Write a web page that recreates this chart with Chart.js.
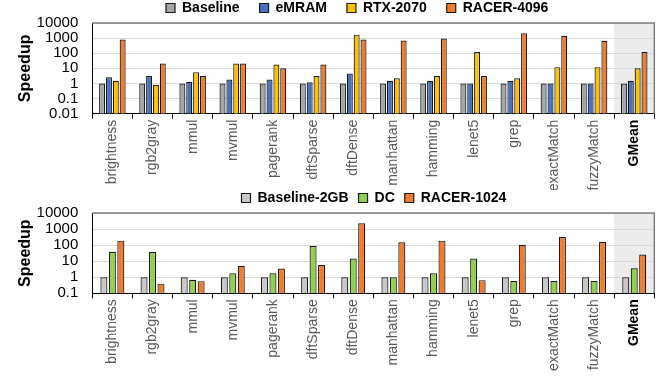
<!DOCTYPE html>
<html><head><meta charset="utf-8">
<script src="https://cdn.jsdelivr.net/npm/chart.js@4.4.1/dist/chart.umd.min.js"></script>
<style>
html,body{margin:0;padding:0;background:#fff;}
#wrap{position:relative;width:672px;height:377px;overflow:hidden;background:#fff}
canvas{position:absolute;left:0}
</style></head><body>
<div id="wrap">
<canvas id="c1" width="672" height="190" style="top:0px"></canvas>
<canvas id="c2" width="672" height="187" style="top:190px"></canvas>
</div>
<script>
const categories = ['brightness','rgb2gray','mmul','mvmul','pagerank','dftSparse','dftDense','manhattan','hamming','lenet5','grep','exactMatch','fuzzyMatch','GMean'];

// Top panel
const topBaseline = [1,1,1,1,1,1,1,1,1,1,1,1,1,1];
const topEMRAM    = [2.6,3.1,1.3,1.8,1.8,1.2,4.6,1.5,1.5,1.0,1.5,1.0,1.0,1.5];
const topRTX2070  = [1.5,0.8,5.6,21,18,3.1,1700,2.2,3.1,120,2.2,12,12,10];
const topRACER4096= [800,21,3.1,21,10,18,800,690,950,3.1,2100,1450,660,120];
const topTickValues = [0.01,0.1,1,10,100,1000,10000];
const topTickLabels = ['0.01','0.1','1','10','100','1000','10000'];

// Bottom panel
const botBaseline2GB = [1,1,1,1,1,1,1,1,1,1,1,1,1,1];
const botDC          = [38,37,0.69,1.75,1.75,87,14.8,1.0,1.75,14.8,0.58,0.58,0.59,3.6];
const botRACER1024   = [190,0.4,0.57,5.1,3.5,5.8,2300,152,190,0.66,105,318,158,26];
const botTickValues = [0.1,1,10,100,1000,10000];
const botTickLabels = ['0.1','1','10','100','1000','10000'];

const FONT = "'Liberation Sans', Arial, sans-serif";

function makePlugins(legendStartX){
  return [{
    id:'gmeanShade',
    beforeDraw(chart){
      const {ctx, chartArea:a} = chart;
      const x = chart.scales.x;
      const w = (x.right - x.left) / categories.length;
      const x0 = x.getPixelForValue(categories.length - 1) - w/2;
      ctx.save();
      ctx.fillStyle = '#ebebeb';
      ctx.fillRect(x0, a.top, a.right - x0, a.bottom - a.top);
      ctx.restore();
    },
    afterDraw(chart){
      const {ctx, chartArea:a} = chart;
      ctx.save();
      ctx.strokeStyle = '#7f7f7f';
      ctx.lineWidth = 1.5;
      ctx.beginPath();
      ctx.moveTo(a.left, a.top);
      ctx.lineTo(a.right, a.top);
      ctx.lineTo(a.right, a.bottom);
      ctx.stroke();
      ctx.restore();
    }
  },{
    id:'legendPlace',
    afterLayout(chart){
      const lg = chart.legend;
      const p = lg.options.labels.padding;
      lg.left = legendStartX - p;
      lg.right = 672;
      lg.top = 8 - 7 - p;
      lg.bottom = lg.top + p + 40;
    }
  }];
}

function build(id, datasets, tickValues, tickLabels, min, max, plotTop, xHeight, legendStartX, legendPad, catPct, barPct){
  return new Chart(document.getElementById(id), {
    type:'bar',
    data:{ labels: categories, datasets },
    options:{
      responsive:false,
      animation:false,
      devicePixelRatio:1,
      layout:{ padding:{ left:0, right:17.7, top:0, bottom:0 } },
      datasets:{ bar:{ categoryPercentage:catPct, barPercentage:barPct } },
      plugins:{
        tooltip:{enabled:false},
        legend:{
          display:true, position:'top', align:'start', maxHeight:plotTop,
          labels:{ boxWidth:9, boxHeight:9, padding:legendPad, color:'#000',
            font:{ family:FONT, size:14, weight:'bold' } }
        }
      },
      scales:{
        x:{
          afterFit(s){ s.height = xHeight; },
          ticks:{ autoSkip:false, maxRotation:90, minRotation:90, padding:1,
            font:(c)=>({ family:FONT, size:14, weight: c.index === categories.length-1 ? 'bold' : 'normal' }),
            color:(c)=> c.index === categories.length-1 ? '#000' : '#595959' },
          grid:{ display:true, drawOnChartArea:false, drawTicks:true, tickLength:5, color:'#000', offset:true },
          border:{ display:true, color:'#000', width:1 }
        },
        y:{
          type:'logarithmic', min, max,
          afterFit(s){ s.width = 92.3; },
          afterBuildTicks(s){ s.ticks = tickValues.map(v => ({ value:v })); },
          ticks:{ autoSkip:false, padding:14, color:'#000',
            font:{ family:FONT, size:15 },
            callback:(v)=>{ const i = tickValues.indexOf(v); return i >= 0 ? tickLabels[i] : ''; } },
          grid:{ color:'#d9d9d9', drawTicks:false, lineWidth:1 },
          border:{ display:true, color:'#000', width:1 },
          title:{ display:true, text:'Speedup', color:'#000',
            font:{ family:FONT, size:16, weight:'bold' }, padding:{ top:16, bottom:0 } }
        }
      }
    },
    plugins: makePlugins(legendStartX)
  });
}

const BORDER = '#1a1a1a';
build('c1', [
  { label:'Baseline',   data:topBaseline,  backgroundColor:'#a6a6a6', borderColor:BORDER, borderWidth:1.2 },
  { label:'eMRAM',      data:topEMRAM,     backgroundColor:'#4472c4', borderColor:BORDER, borderWidth:1.2 },
  { label:'RTX-2070',   data:topRTX2070,   backgroundColor:'#ffc000', borderColor:BORDER, borderWidth:1.2 },
  { label:'RACER-4096', data:topRACER4096, backgroundColor:'#ed7d31', borderColor:BORDER, borderWidth:1.2 }
], topTickValues, topTickLabels, 0.01, 10000, 20.5, 76.3, 166, 20, 0.683, 0.875);

build('c2', [
  { label:'Baseline-2GB', data:botBaseline2GB, backgroundColor:'#c8c8c8', borderColor:BORDER, borderWidth:1.2 },
  { label:'DC',           data:botDC,          backgroundColor:'#92d050', borderColor:BORDER, borderWidth:1.2 },
  { label:'RACER-1024',   data:botRACER1024,   backgroundColor:'#ed7d31', borderColor:BORDER, borderWidth:1.2 }
], botTickValues, botTickLabels, 0.1, 10000, 20.7, 83.7, 241.5, 10, 0.633, 0.83);
</script>
</body></html>
